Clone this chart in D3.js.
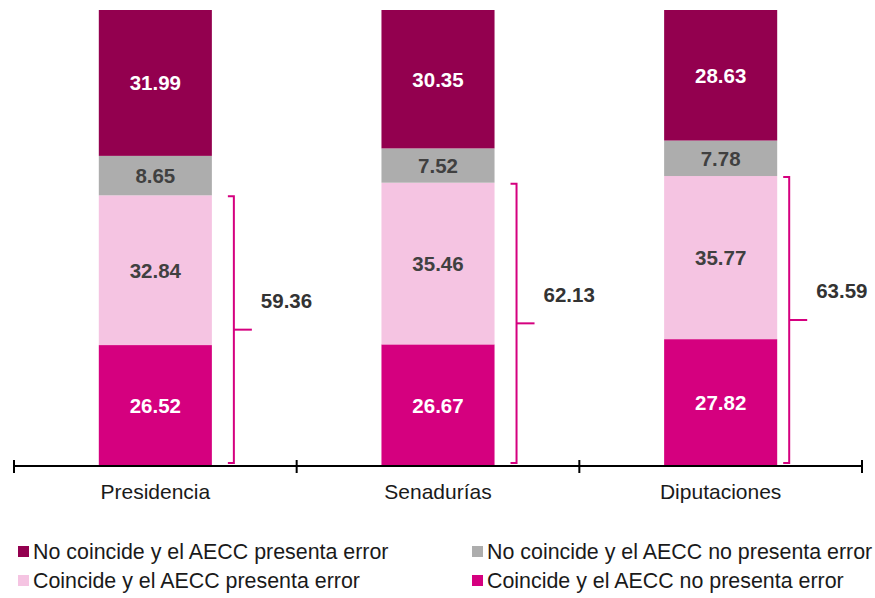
<!DOCTYPE html>
<html>
<head>
<meta charset="utf-8">
<script src="https://cdn.jsdelivr.net/npm/d3@7"></script>
<style>
  body { margin: 0; background: #fff; }
  text { font-family: "Liberation Sans", Arial, sans-serif; }
</style>
</head>
<body>
<div id="chart"></div>
<script>
var categories = ["Presidencia", "Senadurías", "Diputaciones"];
var noCoincideError = [31.99, 30.35, 28.63];
var noCoincideNoError = [8.65, 7.52, 7.78];
var coincideError = [32.84, 35.46, 35.77];
var coincideNoError = [26.52, 26.67, 27.82];
var coincideTotal = [59.36, 62.13, 63.59];

var seriesNames = [
  "Coincide y el AECC no presenta error",
  "Coincide y el AECC presenta error",
  "No coincide y el AECC no presenta error",
  "No coincide y el AECC presenta error"
];
var colors = ["#D5007F", "#F5C4E2", "#ADADAD", "#93004F"];
var labelColors = ["#ffffff", "#404040", "#404040", "#ffffff"];

var width = 875, height = 598;
var axisLeft = 14, axisRight = 862, baseY = 466, topY = 10;

var svg = d3.select("#chart")
  .append("svg")
    .attr("width", width)
    .attr("height", height);

// table for the stack
var table = categories.map(function (c, i) {
  var row = { cat: c };
  row[seriesNames[0]] = coincideNoError[i];
  row[seriesNames[1]] = coincideError[i];
  row[seriesNames[2]] = noCoincideNoError[i];
  row[seriesNames[3]] = noCoincideError[i];
  return row;
});

var stacked = d3.stack().keys(seriesNames)(table);

var x = d3.scaleBand()
  .domain(categories)
  .range([axisLeft, axisRight])
  .paddingInner(0.6)
  .paddingOuter(0.3);

var y = d3.scaleLinear()
  .domain([0, 100])
  .range([baseY, topY]);

var layers = svg.selectAll("g.layer")
  .data(stacked)
  .enter()
  .append("g")
    .attr("class", "layer")
    .attr("fill", function (d, i) { return colors[i]; });

layers.selectAll("rect")
  .data(function (d) { return d; })
  .enter()
  .append("rect")
    .attr("x", function (d) { return x(d.data.cat); })
    .attr("y", function (d) { return y(d[1]); })
    .attr("width", x.bandwidth())
    .attr("height", function (d) { return y(d[0]) - y(d[1]); });

// value labels inside segments
stacked.forEach(function (layer, li) {
  svg.append("g").selectAll("text")
    .data(layer)
    .enter()
    .append("text")
      .attr("x", function (d) { return x(d.data.cat) + x.bandwidth() / 2; })
      .attr("y", function (d) { return (y(d[0]) + y(d[1])) / 2; })
      .attr("dy", "0.36em")
      .attr("text-anchor", "middle")
      .attr("font-size", "20.5px")
      .attr("font-weight", "bold")
      .attr("fill", labelColors[li])
      .text(function (d) { return (d[1] - d[0]).toFixed(2); });
});

// axis line and ticks at category boundaries
svg.append("line")
  .attr("x1", axisLeft).attr("x2", axisRight)
  .attr("y1", baseY).attr("y2", baseY)
  .attr("stroke", "#000").attr("stroke-width", 2);

var bounds = d3.range(categories.length + 1).map(function (i) {
  return axisLeft + i * x.step();
});
svg.selectAll("line.tick")
  .data(bounds)
  .enter()
  .append("line")
    .attr("class", "tick")
    .attr("x1", function (d) { return d; })
    .attr("x2", function (d) { return d; })
    .attr("y1", baseY - 6)
    .attr("y2", baseY + 7)
    .attr("stroke", "#000")
    .attr("stroke-width", 2);

svg.selectAll("text.cat")
  .data(categories)
  .enter()
  .append("text")
    .attr("class", "cat")
    .attr("x", function (d) { return x(d) + x.bandwidth() / 2; })
    .attr("y", 499)
    .attr("text-anchor", "middle")
    .attr("font-size", "21px")
    .attr("fill", "#1a1a1a")
    .text(function (d) { return d; });

// brackets for the "coincide" total
var bracketGap = [22, 22, 12];
categories.forEach(function (c, i) {
  var bx = x(c) + x.bandwidth() + bracketGap[i];
  var top = y(coincideTotal[i]) + 1;
  var bottom = y(0) - 3;
  var mid = (top + bottom) / 2;
  var g = svg.append("g")
    .attr("fill", "none")
    .attr("stroke", "#D5007F")
    .attr("stroke-width", 2);
  g.append("path")
    .attr("d", "M" + (bx - 6) + "," + top + "H" + bx + "V" + bottom + "H" + (bx - 6));
  g.append("line")
    .attr("x1", bx).attr("x2", bx + 18)
    .attr("y1", mid).attr("y2", mid);
  svg.append("text")
    .attr("x", bx + 27)
    .attr("y", mid - 29)
    .attr("dy", "0.36em")
    .attr("font-size", "20.5px")
    .attr("font-weight", "bold")
    .attr("fill", "#333333")
    .text(coincideTotal[i].toFixed(2));
});

// legend
var legendOrder = [3, 2, 1, 0];
var legend = svg.selectAll("g.legend")
  .data(legendOrder)
  .enter()
  .append("g")
    .attr("class", "legend")
    .attr("transform", function (d, i) {
      var col = i % 2, row = Math.floor(i / 2);
      return "translate(" + (col === 0 ? 18 : 472) + "," + (551 + row * 29) + ")";
    });

legend.append("rect")
  .attr("x", 0).attr("y", -5)
  .attr("width", 11).attr("height", 11)
  .attr("fill", function (d) { return colors[d]; });

legend.append("text")
  .attr("x", 15)
  .attr("y", 0)
  .attr("dy", "0.36em")
  .attr("font-size", "21.4px")
  .attr("fill", "#1a1a1a")
  .text(function (d) { return seriesNames[d]; });
</script>
</body>
</html>
